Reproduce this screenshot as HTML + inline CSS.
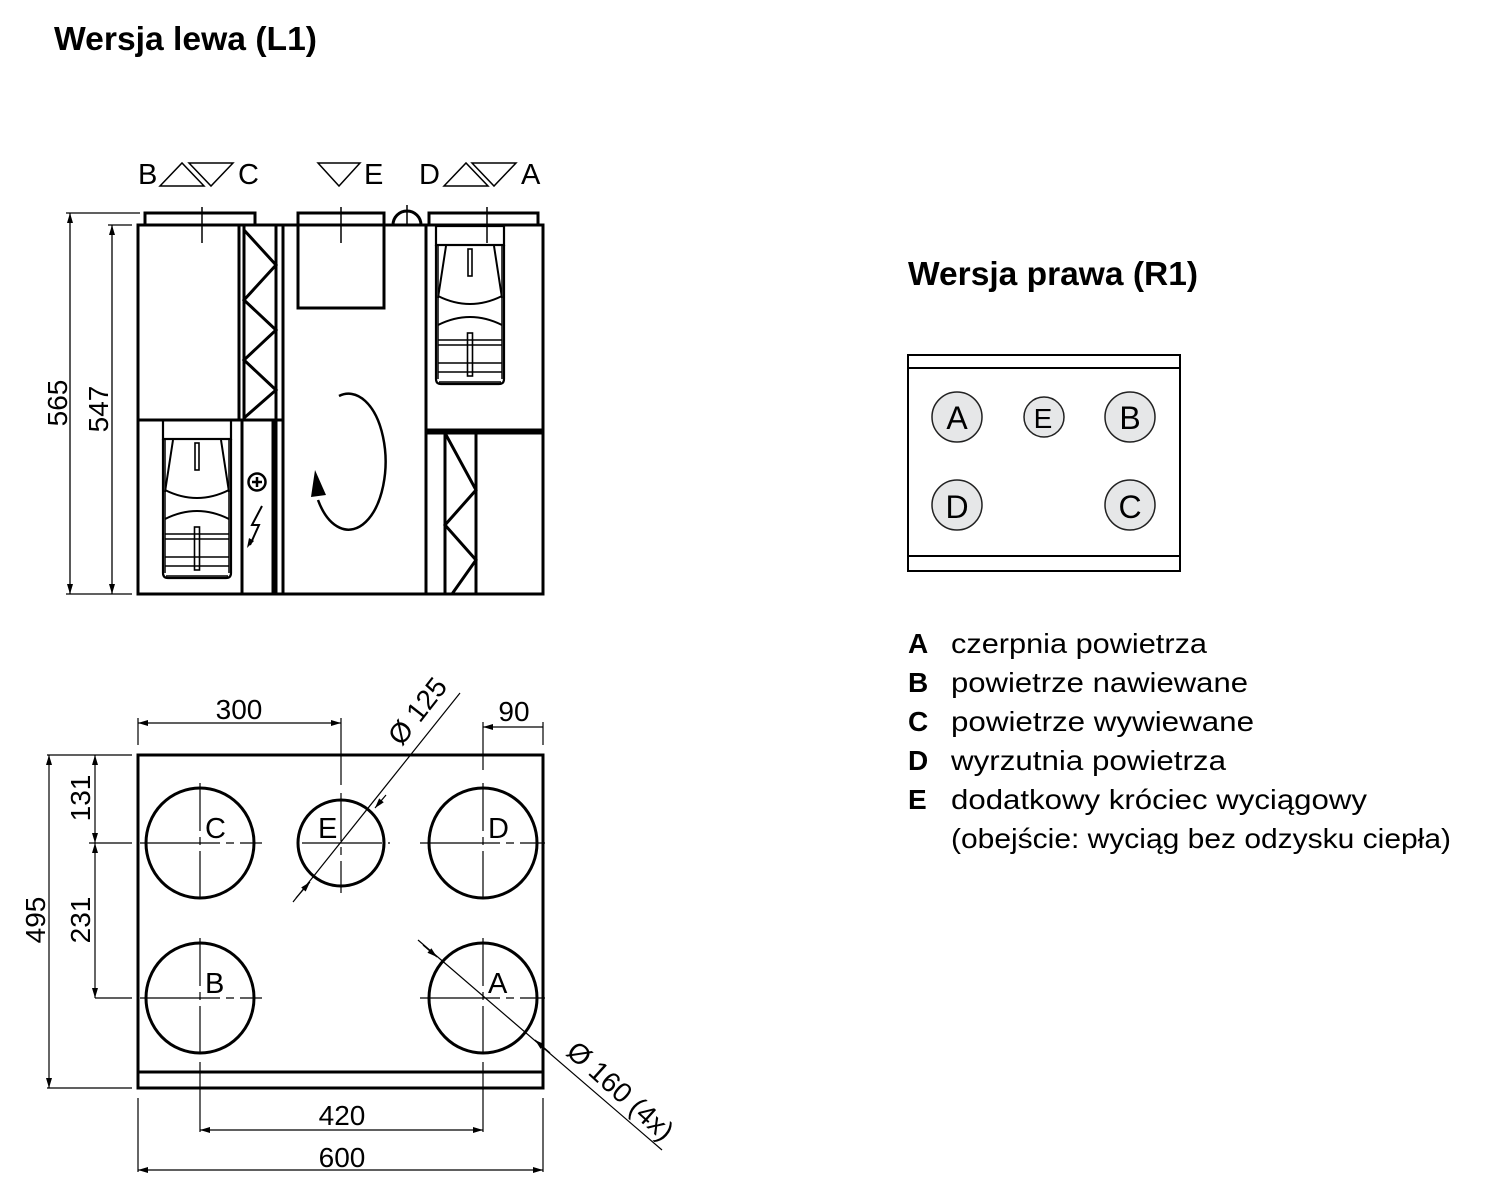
<!DOCTYPE html>
<html><head><meta charset="utf-8"><style>
html,body{margin:0;padding:0;background:#fff;}
svg{display:block;}
text{font-family:"Liberation Sans",sans-serif;fill:#000;}
.d{font-family:"Liberation Sans Narrow","Liberation Sans",sans-serif;font-size:28px;}
</style></head><body>
<svg width="1500" height="1202" viewBox="0 0 1500 1202" xmlns="http://www.w3.org/2000/svg">
<defs>
<marker id="ar" viewBox="0 0 10 6" refX="10" refY="3" markerWidth="14" markerHeight="6" markerUnits="userSpaceOnUse" orient="auto-start-reverse"><path d="M0,0 L10,3 L0,6 z" fill="#000"/></marker>
<g id="fan" fill="none" stroke="#000" stroke-width="2.2">
<rect x="0" y="0" width="68" height="19"/>
<path d="M0,19 L0,153 Q0,158 5,158 L63,158 Q68,158 68,153 L68,19"/>
<path d="M3,156 L65,156" stroke-width="1.5"/>
<path d="M10,20 L2,72 M58,20 L66,72" stroke-width="2"/>
<path d="M2,70 Q34,86 66,70 M2,99 Q34,83 66,99" stroke-width="2"/>
<path d="M2,114 H66 M2,119 H66 M2,137 H66 M2,146 H66" stroke-width="1.6"/>
<path d="M2,20 V153 M66,20 V153" stroke-width="1.5"/>
<rect x="32" y="23" width="4" height="27" stroke-width="1.6"/>
<rect x="31.5" y="107" width="5" height="43" stroke-width="1.6"/>
</g>
</defs>

<text x="54" y="50" font-size="33" font-weight="bold" textLength="263" lengthAdjust="spacingAndGlyphs">Wersja lewa (L1)</text>
<text x="908" y="285" font-size="33" font-weight="bold" textLength="290" lengthAdjust="spacingAndGlyphs">Wersja prawa (R1)</text>

<g>
<text x="138" y="184" class="d" style="font-size:29px">B</text>
<text x="238" y="184" class="d" style="font-size:29px">C</text>
<text x="364" y="184" class="d" style="font-size:29px">E</text>
<text x="419" y="184" class="d" style="font-size:29px">D</text>
<text x="521" y="184" class="d" style="font-size:29px">A</text>
</g>
<g fill="none" stroke="#000" stroke-width="1.5">
<path d="M160,186 L182,163 L204,186 Z"/>
<path d="M189,163 L233,163 L211,186 Z"/>
<path d="M318,163 L360,163 L339,186 Z"/>
<path d="M444,186 L466,163 L488,186 Z"/>
<path d="M472,163 L516,163 L494,186 Z"/>
</g>
<g fill="none" stroke="#000" stroke-width="3">
<rect x="138" y="225" width="405" height="369"/>
<path d="M145,225 V213 H255 V225 M298,225 V213 H384 V225 M429,225 V213 H538 V225"/>
<path d="M393,225 A14,14 0 0 1 421,225"/>
<path d="M239,225 V420 M244,225 V420 M276,225 V594 M283,225 V594 M138,420 H283"/>
<path d="M242,420 V594 M273,420 V594"/>
<path d="M244,230 L276,265 L244,300 L276,330 L244,360 L276,390 L244,418"/>
<rect x="298" y="225" width="86" height="83"/>
<path d="M426,225 V594 M426,430 H543 M426,433 H543"/>
<path d="M445,433 V594 M476,433 V594"/>
<path d="M445,433 L476,490 L445,525 L476,560 L452,594"/>
</g>
<path d="M202,207 V243 M341,207 V243 M407,205 V225 M487,207 V243" stroke="#000" stroke-width="1.5"/>
<use href="#fan" x="163" y="420"/>
<use href="#fan" x="436" y="226"/>
<circle cx="257" cy="482" r="8.5" fill="none" stroke="#000" stroke-width="2.5"/>
<path d="M257,477 V487 M252,482 H262" stroke="#000" stroke-width="2.5"/>
<path d="M262,506 L252,525 L259,525 L250,545" fill="none" stroke="#000" stroke-width="2"/>
<path d="M247,548 L249,538 L254,541 Z" fill="#000"/>
<path d="M339,396 A37,68 0 1 1 318,500" fill="none" stroke="#000" stroke-width="2.5"/>
<path d="M315,470 L311,497 L326,495 Z" fill="#000"/>
<g stroke="#000" stroke-width="1.3" fill="none">
<path d="M66,213 H140 M108,225 H132 M66,594 H132"/>
<path d="M70,213 V594" marker-start="url(#ar)" marker-end="url(#ar)"/>
<path d="M112,225 V594" marker-start="url(#ar)" marker-end="url(#ar)"/>
</g>
<text class="d" transform="translate(67,403) rotate(-90)" text-anchor="middle">565</text>
<text class="d" transform="translate(108,409) rotate(-90)" text-anchor="middle">547</text>

<g fill="none" stroke="#000" stroke-width="3">
<rect x="138" y="755" width="405" height="333"/>
<path d="M138,1072 H543"/>
<ellipse cx="200" cy="843" rx="54" ry="55"/>
<ellipse cx="341" cy="843" rx="43" ry="43"/>
<ellipse cx="483" cy="843" rx="54" ry="55"/>
<ellipse cx="200" cy="998" rx="54" ry="55"/>
<ellipse cx="483" cy="998" rx="54" ry="55"/>
</g>
<g stroke="#000" stroke-width="1.2" fill="none">
<path d="M200,783 V903 M341,793 V893 M483,783 V903 M200,938 V1058 M483,938 V1058" stroke-dasharray="48,6,8,6"/>
<path d="M140,843 H262 M302,843 H390 M420,843 H545 M140,998 H262 M420,998 H545" stroke-dasharray="80,6,8,6"/>
<path d="M200,1062 V1132 M483,1062 V1132"/>
<path d="M138,718 V745 M341,718 V785 M483,722 V770 M543,722 V745"/>
<path d="M138,723 H341" marker-start="url(#ar)" marker-end="url(#ar)"/>
<path d="M483,727 H543" marker-start="url(#ar)"/>
<path d="M47,755 H132 M47,1088 H132 M89,843 H132 M95,998 H132 M89,755 H132"/>
<path d="M49,755 V1088" marker-start="url(#ar)" marker-end="url(#ar)"/>
<path d="M95,755 V843" marker-start="url(#ar)" marker-end="url(#ar)"/>
<path d="M95,843 V998" marker-start="url(#ar)" marker-end="url(#ar)"/>
<path d="M200,1130 H483" marker-start="url(#ar)" marker-end="url(#ar)"/>
<path d="M138,1098 V1172 M543,1098 V1172"/>
<path d="M138,1170 H543" marker-start="url(#ar)" marker-end="url(#ar)"/>
<path d="M293,902 L460,693"/>
<path d="M386,795 L375,808" marker-end="url(#ar)"/>
<path d="M296,898 L310,882" marker-end="url(#ar)"/>
<path d="M418,940 L662,1150"/>
<path d="M423,945 L437,957" marker-end="url(#ar)"/>
<path d="M550,1053 L535,1040" marker-end="url(#ar)"/>
</g>
<g>
<text x="205" y="838" class="d" style="font-size:29px">C</text>
<text x="318" y="838" class="d" style="font-size:29px">E</text>
<text x="488" y="838" class="d" style="font-size:29px">D</text>
<text x="205" y="993" class="d" style="font-size:29px">B</text>
<text x="488" y="993" class="d" style="font-size:29px">A</text>
</g>
<text x="239" y="719" class="d" text-anchor="middle">300</text>
<text x="514" y="721" class="d" text-anchor="middle">90</text>
<text x="342" y="1125" class="d" text-anchor="middle">420</text>
<text x="342" y="1167" class="d" text-anchor="middle">600</text>
<text class="d" transform="translate(45,920) rotate(-90)" text-anchor="middle">495</text>
<text class="d" transform="translate(90,798) rotate(-90)" text-anchor="middle">131</text>
<text class="d" transform="translate(90,920) rotate(-90)" text-anchor="middle">231</text>
<text class="d" transform="translate(425,717) rotate(-52)" text-anchor="middle">Ø 125</text>
<text class="d" transform="translate(614,1098) rotate(42)" text-anchor="middle">Ø 160 (4x)</text>

<g fill="none" stroke="#000" stroke-width="2">
<rect x="908" y="355" width="272" height="216"/>
<path d="M908,368 H1180 M908,556 H1180"/>
</g>
<g fill="#e6e7e8" stroke="#222" stroke-width="1.5">
<circle cx="957" cy="417" r="25"/>
<circle cx="1044" cy="417" r="20"/>
<circle cx="1130" cy="417" r="25"/>
<circle cx="957" cy="505" r="25"/>
<circle cx="1130" cy="505" r="25"/>
</g>
<g font-size="32" text-anchor="middle">
<text x="957" y="429" fill="#555">A</text>
<text x="1043" y="428" fill="#555" font-size="28">E</text>
<text x="1130" y="429" fill="#555">B</text>
<text x="957" y="518" fill="#555">D</text>
<text x="1130" y="518" fill="#555">C</text>
</g>

<g font-size="28">
<text x="908" y="653" font-weight="bold">A</text>
<text x="951" y="653" textLength="256" lengthAdjust="spacingAndGlyphs">czerpnia powietrza</text>
<text x="908" y="692" font-weight="bold">B</text>
<text x="951" y="692" textLength="297" lengthAdjust="spacingAndGlyphs">powietrze nawiewane</text>
<text x="908" y="731" font-weight="bold">C</text>
<text x="951" y="731" textLength="303" lengthAdjust="spacingAndGlyphs">powietrze wywiewane</text>
<text x="908" y="770" font-weight="bold">D</text>
<text x="951" y="770" textLength="275" lengthAdjust="spacingAndGlyphs">wyrzutnia powietrza</text>
<text x="908" y="809" font-weight="bold">E</text>
<text x="951" y="809" textLength="416" lengthAdjust="spacingAndGlyphs">dodatkowy króciec wyciągowy</text>
<text x="951" y="848" textLength="500" lengthAdjust="spacingAndGlyphs">(obejście: wyciąg bez odzysku ciepła)</text>
</g>
</svg>
</body></html>
